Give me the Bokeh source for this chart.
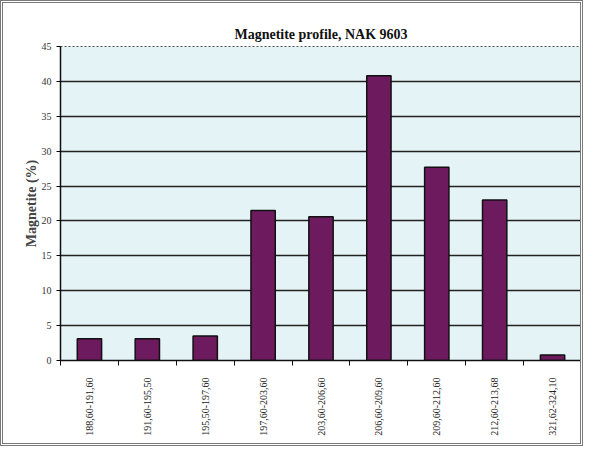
import math
from bokeh.plotting import figure
from bokeh.models import ColumnDataSource, FixedTicker, Range1d
from bokeh.embed import file_html
from bokeh.resources import INLINE

categories = ["188,60-191,60", "191,60-195,50", "195,50-197,60", "197,60-203,60",
              "203,60-206,60", "206,60-209,60", "209,60-212,60", "212,60-213,68",
              "321,62-324,10"]
magnetite = [3.1, 3.1, 3.5, 21.5, 20.6, 40.8, 27.7, 23.0, 0.8]
y_ticks = [0, 5, 10, 15, 20, 25, 30, 35, 40, 45]

xs = list(range(1, len(categories) + 1))
src = ColumnDataSource(dict(x=xs, top=magnetite))

p = figure(width=583, height=446, output_backend="svg", toolbar_location=None,
           x_range=Range1d(0.5, len(categories) + 0.5), y_range=Range1d(0, 45),
           title="Magnetite profile, NAK 9603",
           min_border_left=57, min_border_right=5, min_border_top=43, min_border_bottom=89)
p.styles = {"border": "3px double #7a7a7a"}

p.title.align = "center"
p.title.text_font = "Liberation Serif"
p.title.text_font_size = "14px"
p.title.text_font_style = "bold"
p.title.text_color = "#111111"
p.title.offset = 0
p.title.standoff = 10

p.background_fill_color = "#e4f3f5"
p.border_fill_color = "white"
p.outline_line_color = "#555555"
p.outline_line_dash = "2 2"
p.outline_line_width = 1

p.vbar(x="x", top="top", width=0.42, source=src,
       fill_color="#6e1a5e", line_color="#111111", line_width=1.5)

# Y axis
p.yaxis.ticker = FixedTicker(ticks=y_ticks)
p.yaxis.axis_label = "Magnetite (%)"
p.yaxis.axis_label_text_font = "Liberation Serif"
p.yaxis.axis_label_text_font_size = "14px"
p.yaxis.axis_label_text_font_style = "bold"
p.yaxis.axis_label_standoff = 0
p.yaxis.major_label_text_font = "Liberation Serif"
p.yaxis.major_label_text_font_size = "10px"
p.yaxis.major_label_text_color = "#333333"
p.yaxis.axis_line_color = "#111111"
p.yaxis.axis_line_width = 1.5
p.yaxis.major_tick_in = 0
p.yaxis.major_tick_out = 4
p.yaxis.minor_tick_line_color = None

# X axis: labels at centers, ticks at boundaries
p.xaxis.ticker = FixedTicker(ticks=xs, minor_ticks=[i + 0.5 for i in range(len(categories) + 1)])
p.xaxis.major_label_overrides = {x: c for x, c in zip(xs, categories)}
p.xaxis.major_label_orientation = math.pi / 2
p.xaxis.major_label_text_font = "Liberation Serif"
p.xaxis.major_label_text_font_size = "10px"
p.xaxis.major_label_text_color = "#222222"
p.xaxis.major_label_standoff = 12
p.xaxis.major_tick_in = 0
p.xaxis.major_tick_out = 0
p.xaxis.minor_tick_in = 0
p.xaxis.minor_tick_out = 5
p.xaxis.minor_tick_line_color = "#111111"
p.xaxis.axis_line_color = "#111111"
p.xaxis.axis_line_width = 1.5

p.xgrid.grid_line_color = None
p.ygrid.ticker = FixedTicker(ticks=[5, 10, 15, 20, 25, 30, 35, 40])
p.ygrid.grid_line_color = "#222222"
p.ygrid.grid_line_width = 1.5

open("out.html", "w").write(file_html(p, INLINE))
